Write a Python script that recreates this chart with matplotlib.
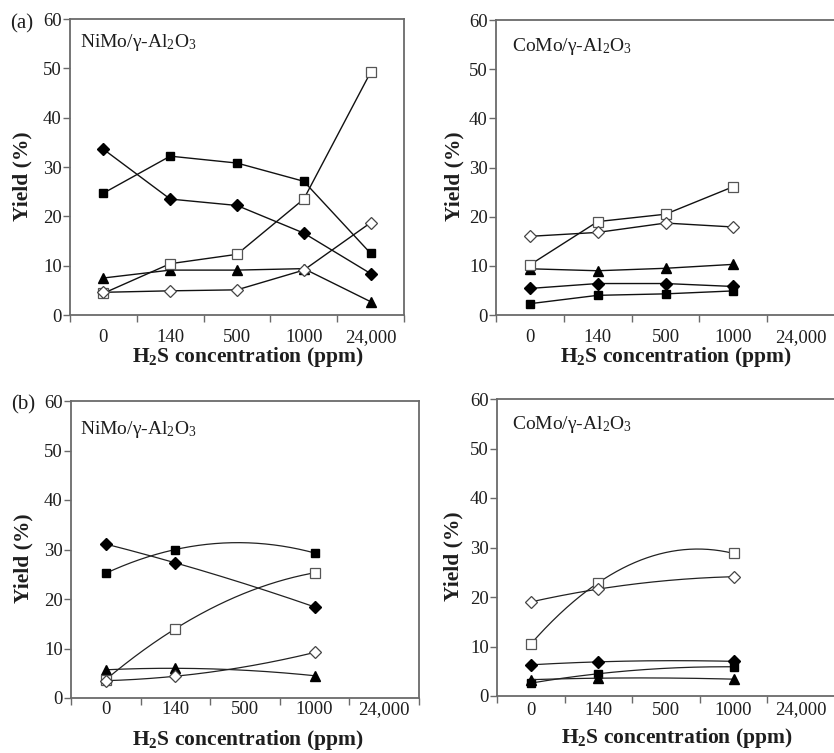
import numpy as np
import matplotlib
matplotlib.use('Agg')
import matplotlib.pyplot as plt

plt.rcParams['font.family'] = ['Liberation Serif', 'DejaVu Serif']
plt.rcParams['mathtext.fontset'] = 'custom'
plt.rcParams['mathtext.rm'] = 'Liberation Serif'
plt.rcParams['mathtext.default'] = 'regular'

conc_labels = ['0', '140', '500', '1000', '24,000']

# (a) NiMo/g-Al2O3, all five concentrations
a_nimo_x = [0, 1, 2, 3, 4]
a_nimo_fsq = [24.7, 32.2, 30.8, 27.1, 12.5]
a_nimo_fdia = [33.6, 23.5, 22.2, 16.6, 8.4]
a_nimo_osq = [4.4, 10.4, 12.3, 23.5, 49.2]
a_nimo_tri = [7.5, 9.1, 9.1, 9.4, 2.7]
a_nimo_odia = [4.6, 4.9, 5.1, 9.1, 18.7]

# (a) CoMo/g-Al2O3, no 24,000 point
a_como_x = [0, 1, 2, 3]
a_como_fsq = [2.3, 4.0, 4.3, 4.9]
a_como_fdia = [5.4, 6.4, 6.4, 5.8]
a_como_osq = [10.2, 19.0, 20.5, 26.1]
a_como_tri = [9.4, 9.0, 9.5, 10.3]
a_como_odia = [16.0, 16.8, 18.7, 17.9]

# (b) only 0, 140, 1000
b_x = [0, 1, 3]
b_nimo_fsq = [25.2, 30.0, 29.3]
b_nimo_fdia = [31.1, 27.3, 18.4]
b_nimo_osq = [3.7, 14.0, 25.3]
b_nimo_tri = [5.7, 6.0, 4.5]
b_nimo_odia = [3.5, 4.4, 9.2]

b_como_fsq = [2.6, 4.5, 5.9]
b_como_fdia = [6.3, 6.9, 7.0]
b_como_osq = [10.5, 22.9, 28.8]
b_como_tri = [3.3, 3.6, 3.4]
b_como_odia = [19.0, 21.6, 24.1]

styles = {
    'fsq': dict(marker='s', ms=6, mfc='black', mec='black'),
    'fdia': dict(marker='D', ms=6, mfc='black', mec='black'),
    'osq': dict(marker='s', ms=6.5, mfc='white', mec='#555555', mew=0.9),
    'tri': dict(marker='^', ms=6.5, mfc='black', mec='black'),
    'odia': dict(marker='D', ms=6.5, mfc='white', mec='#444444', mew=0.9),
}

W, H = 834, 753
fig = plt.figure(figsize=(W / 100, H / 100), dpi=100)

def box(x0, x1, ytop, ybot):
    return [x0 / W, 1 - ybot / H, (x1 - x0) / W, (ybot - ytop) / H]

spine_c = '#6a6a6a'
txt_c = '#1e1e1e'

def setup(ax, tickpad, lab_x, lab_y, ylab_x):
    ax.set_xlim(-0.5, 4.5)
    ax.set_ylim(0, 60)
    ax.set_yticks(range(0, 61, 10))
    ax.set_xticks(np.arange(-0.5, 5, 1))
    ax.set_xticklabels([])
    ax.set_xticks(range(5), minor=True)
    ax.set_xticklabels(conc_labels, minor=True)
    ax.tick_params(axis='x', which='major', length=5, direction='out', color=spine_c, width=1)
    ax.tick_params(axis='x', which='minor', length=0, pad=tickpad, labelsize=13.5, labelcolor=txt_c)
    ax.tick_params(axis='y', length=5, direction='out', color=spine_c, width=1,
                   labelsize=13.5, labelcolor=txt_c, pad=1)
    for s in ax.spines.values():
        s.set_color(spine_c)
        s.set_linewidth(1.3)
    ax.set_xlabel('H$_2$S concentration (ppm)', fontsize=15.5, fontweight='bold', color=txt_c)
    ax.xaxis.set_label_coords(lab_x, lab_y)
    ax.set_ylabel('Yield (%)', fontsize=15.5, fontweight='bold', color=txt_c)
    ax.yaxis.set_label_coords(ylab_x, 0.47)

def straight(ax, x, series):
    for key, y in series:
        ax.plot(x, y, color='#111111', lw=1.0, **styles[key])

def curved(ax, x, series):
    xs = np.linspace(min(x), max(x), 200)
    for key, y in series:
        coef = np.polyfit(x, y, 2)
        ax.plot(xs, np.polyval(coef, xs), color='#222222', lw=0.9)
        ax.plot(x, y, ls='none', **styles[key])

# (a) left
ax1 = fig.add_axes(box(70, 404, 19, 315))
setup(ax1, 10, 0.533, -0.101, -0.111)
straight(ax1, a_nimo_x, [('fsq', a_nimo_fsq), ('fdia', a_nimo_fdia), ('tri', a_nimo_tri),
                         ('osq', a_nimo_osq), ('odia', a_nimo_odia)])
ax1.text(0.03, 0.92, 'NiMo/γ-Al$_2$O$_3$', transform=ax1.transAxes, fontsize=14,
         color=txt_c, va='center', ha='left')

# (a) right
ax2 = fig.add_axes(box(496, 835, 20, 315))
setup(ax2, 10, 0.531, -0.101, -0.094)
straight(ax2, a_como_x, [('fsq', a_como_fsq), ('fdia', a_como_fdia), ('tri', a_como_tri),
                         ('osq', a_como_osq), ('odia', a_como_odia)])
ax2.text(0.047, 0.91, 'CoMo/γ-Al$_2$O$_3$', transform=ax2.transAxes, fontsize=14,
         color=txt_c, va='center', ha='left')

# (b) left
ax3 = fig.add_axes(box(71, 419, 401, 698))
setup(ax3, 2, 0.509, -0.1, -0.109)
curved(ax3, b_x, [('fsq', b_nimo_fsq), ('fdia', b_nimo_fdia), ('tri', b_nimo_tri),
                  ('osq', b_nimo_osq), ('odia', b_nimo_odia)])
ax3.text(0.026, 0.905, 'NiMo/γ-Al$_2$O$_3$', transform=ax3.transAxes, fontsize=14,
         color=txt_c, va='center', ha='left')

# (b) right
ax4 = fig.add_axes(box(497, 835, 399, 696))
setup(ax4, 4, 0.531, -0.1, -0.098)
curved(ax4, b_x, [('fsq', b_como_fsq), ('fdia', b_como_fdia), ('tri', b_como_tri),
                  ('osq', b_como_osq), ('odia', b_como_odia)])
ax4.text(0.045, 0.915, 'CoMo/γ-Al$_2$O$_3$', transform=ax4.transAxes, fontsize=14,
         color=txt_c, va='center', ha='left')

fig.text(22 / W, 1 - 24 / H, '(a)', fontsize=15, color=txt_c, ha='center', va='center')
fig.text(23 / W, 1 - 405 / H, '(b)', fontsize=15, color=txt_c, ha='center', va='center')

fig.savefig('out.png', dpi=100)
